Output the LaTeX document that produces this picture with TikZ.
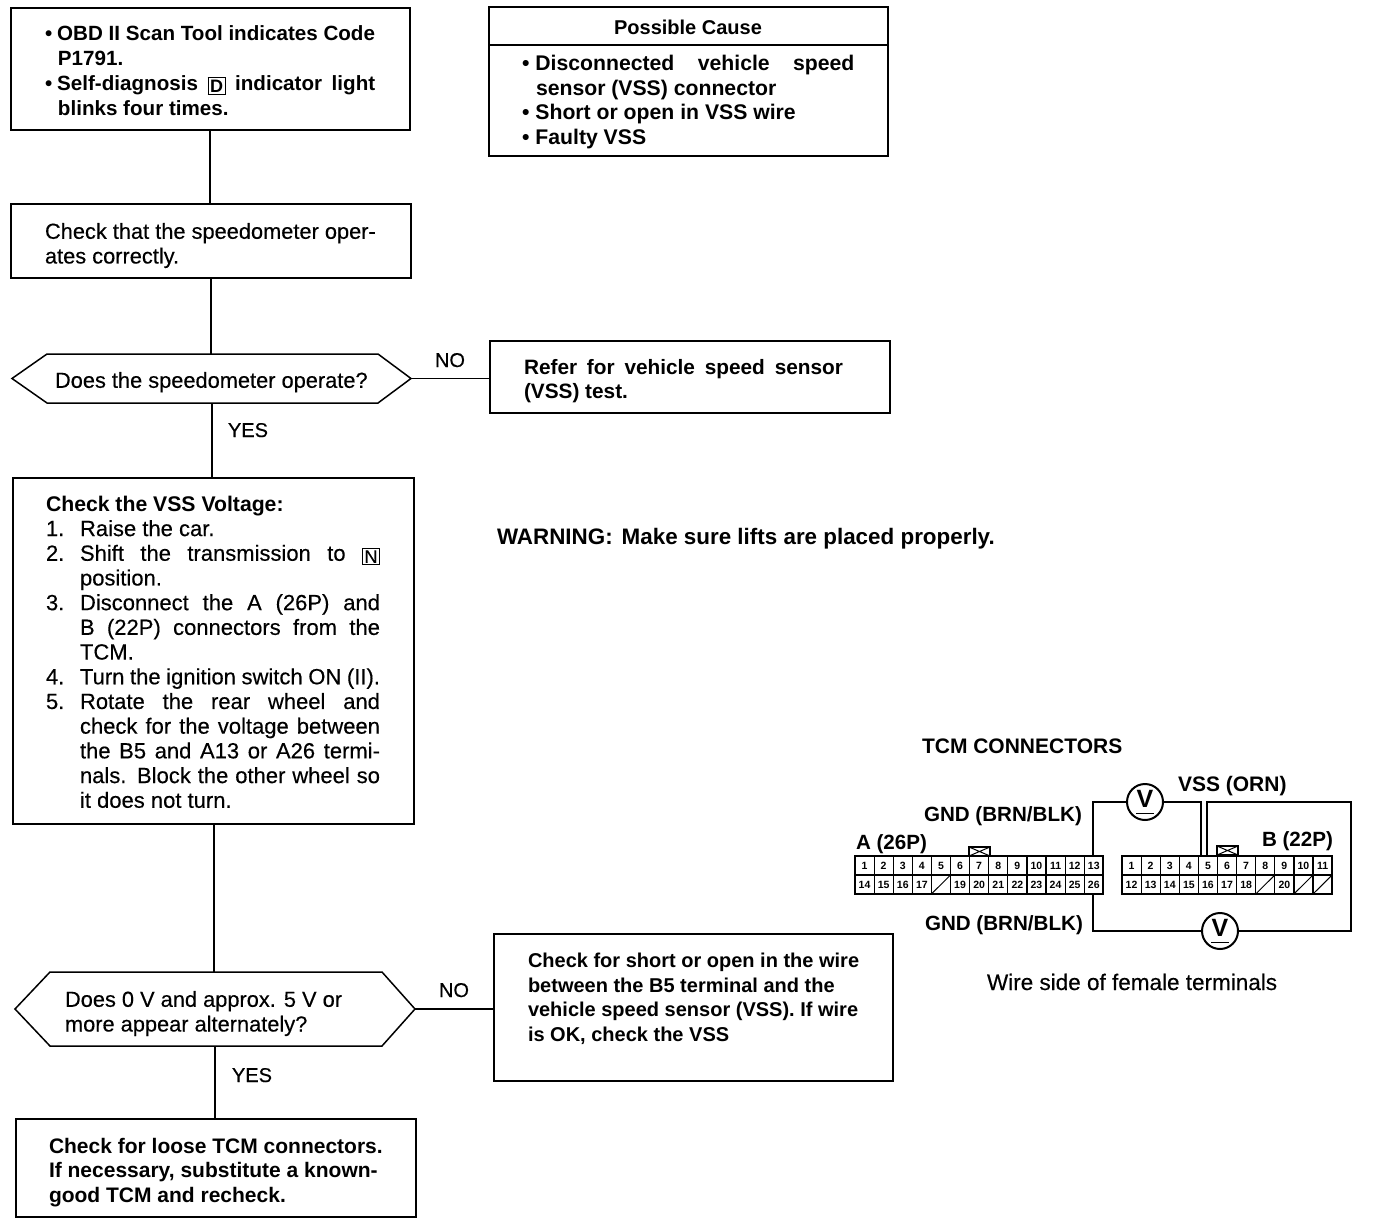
\documentclass[tikz,border=0pt]{standalone}
\usepackage{fontspec}
\setmainfont[UprightFeatures={FakeBold=0.35}]{Liberation Sans}
\tikzset{
  x=1pt,y=-1pt,
  boxa/.style={draw,line width=1.6pt,inner sep=0pt,outer sep=0pt,anchor=north west},
  hexbase/.style={inner sep=0pt,outer sep=0pt,anchor=north west},
  flow/.style={line width=1.5pt},
  wire/.style={line width=1.8pt},
  txt/.style={inner sep=0pt,outer sep=0pt,anchor=north west,align=left,font=\fontsize{21.8}{24.7}\selectfont},
  txtb/.style={txt,font=\fontsize{20.8}{24.7}\selectfont\bfseries},
  lab/.style={inner sep=0pt,outer sep=0pt,anchor=base west,font=\fontsize{20}{24}\selectfont},
  labb/.style={lab,font=\fontsize{20.6}{24}\selectfont\bfseries},
  cell/.style={draw,line width=1.2pt,inner sep=0pt,outer sep=0pt,minimum width=19.1pt,minimum height=19pt,font=\fontsize{10.5}{11}\selectfont\bfseries,anchor=north west},
  meter/.style={circle,draw,line width=2pt,minimum size=36pt,inner sep=0pt,outer sep=0pt,font=\fontsize{25}{25}\selectfont\bfseries,fill=white},
  keybar/.style={draw,line width=1.3pt,inner sep=0pt,outer sep=0pt,minimum width=21pt,minimum height=9pt,anchor=north west},
}
\newcommand{\kbox}[1]{{\setlength{\fboxsep}{1.5pt}\setlength{\fboxrule}{1pt}\raisebox{-2pt}{\fbox{\fontsize{18}{18}\selectfont #1}}}}
\newcommand{\num}[1]{\makebox[34pt][l]{#1}}
\begin{document}
\begin{tikzpicture}
\useasboundingbox (0,0) rectangle (1376,1226);
% flow boxes
\node[boxa,minimum width=399pt,minimum height=122pt] (b1) at (11,8) {};
\node[boxa,minimum width=400pt,minimum height=74pt] (b2) at (11,204) {};
\node[boxa,minimum width=399pt,minimum height=149pt] (pc) at (489,7) {};
\node[hexbase,minimum width=399pt,minimum height=49pt] (h1) at (12,354) {};
\node[boxa,minimum width=400pt,minimum height=72pt] (n1) at (490,341) {};
\node[boxa,minimum width=401pt,minimum height=346pt] (b3) at (13,478) {};
\node[hexbase,minimum width=400pt,minimum height=74pt] (h2) at (15,972) {};
\node[boxa,minimum width=399pt,minimum height=147pt] (n2) at (494,934) {};
\node[boxa,minimum width=400pt,minimum height=98pt] (b4) at (16,1119) {};
\draw[flow] (h1.west) -- ([xshift=35pt]h1.north west) -- ([xshift=-33pt]h1.north east) -- (h1.east) -- ([xshift=-33pt]h1.south east) -- ([xshift=35pt]h1.south west) -- cycle;
\draw[flow] (h2.west) -- ([xshift=35pt]h2.north west) -- ([xshift=-33pt]h2.north east) -- (h2.east) -- ([xshift=-33pt]h2.south east) -- ([xshift=35pt]h2.south west) -- cycle;
\draw[flow] (pc.north west |- 0,45) -- (pc.north east |- 0,45);
% connectors
\draw[flow] ([xshift=-.5pt]b1.south) -- ([xshift=-.5pt]b1.south |- b2.north);
\draw[flow] (b2.south) -- (b2.south |- h1.north);
\draw[flow] ([xshift=.5pt]h1.south) -- ([xshift=.5pt]h1.south |- b3.north);
\draw[flow] (h1.east) -- (h1.east -| n1.west);
\draw[flow] ([xshift=.5pt]b3.south) -- ([xshift=.5pt]b3.south |- h2.north);
\draw[flow] (h2.south) -- (h2.south |- b4.north);
\draw[flow] (h2.east) -- (h2.east -| n2.west);
% box text
\node[txtb,font=\fontsize{20.6}{24.7}\selectfont\bfseries] (t1) at (45,26) {•\hspace{5pt}OBD II Scan Tool indicates Code\\\hspace*{13pt}P1791.\\•\hspace{5pt}\makebox[318pt][s]{Self-diagnosis \kbox{D} indicator light}\\\hspace*{13pt}blinks four times.};
\node[txt] (t2) at (45,223) {Check that the speedometer oper-\\ates correctly.};
\node[labb,font=\fontsize{20}{24}\selectfont\bfseries,anchor=base] (t3) at (688,34) {Possible Cause};
\node[txtb,font=\fontsize{21.2}{24.7}\selectfont\bfseries] (t4) at (522,55) {•\hspace{6pt}\makebox[319pt][s]{Disconnected vehicle speed}\\\hspace*{14pt}sensor (VSS) connector\\•\hspace{6pt}Short or open in VSS wire\\•\hspace{6pt}Faulty VSS};
\node[txt] (t5) at (55,372) {Does the speedometer operate?};
\node[lab] (t6) at (435,367) {NO};
\node[lab] (t7) at (228,437) {YES};
\node[txtb] (t8) at (524,359) {\makebox[319pt][s]{Refer for vehicle speed sensor}\\(VSS) test.};
\node[txt,font=\fontsize{22}{24.7}\selectfont] (t9) at (46,496) {{\fontsize{21.2}{24.7}\selectfont\textbf{Check the VSS Voltage:}}\\
\num{1.}Raise the car.\\
\num{2.}\makebox[300pt][s]{Shift the transmission to \kbox{N}}\\
\num{}position.\\
\num{3.}\makebox[300pt][s]{Disconnect the A (26P) and}\\
\num{}\makebox[300pt][s]{B (22P) connectors from the}\\
\num{}TCM.\\
\num{4.}\makebox[300pt][s]{Turn the ignition switch ON (II).}\\
\num{5.}\makebox[300pt][s]{Rotate the rear wheel and}\\
\num{}\makebox[300pt][s]{check for the voltage between}\\
\num{}\makebox[300pt][s]{the B5 and A13 or A26 termi-}\\
\num{}\makebox[300pt][s]{nals. Block the other wheel so}\\
\num{}it does not turn.};
\node[lab,font=\fontsize{22.4}{24}\selectfont\bfseries] (t10) at (497,544) {WARNING:\hspace{9pt}Make sure lifts are placed properly.};
\node[txt] (t11) at (65,991) {Does 0 V and approx. 5 V or\\more appear alternately?};
\node[lab] (t12) at (439,997) {NO};
\node[lab] (t13) at (232,1082) {YES};
\node[txtb,font=\fontsize{20}{24.7}\selectfont\bfseries] (t14) at (528,953) {Check for short or open in the wire\\between the B5 terminal and the\\vehicle speed sensor (VSS). If wire\\is OK, check the VSS};
\node[txtb,font=\fontsize{21}{24.7}\selectfont\bfseries] (t15) at (49,1138) {Check for loose TCM connectors.\\If necessary, substitute a known-\\good TCM and recheck.};
% connector diagram
\node[labb,font=\fontsize{21}{24}\selectfont\bfseries] (c0) at (922,753) {TCM CONNECTORS};
\node[labb,font=\fontsize{21}{24}\selectfont\bfseries] (c1) at (1178,791) {VSS (ORN)};
\node[labb] (c2) at (924,821) {GND (BRN/BLK)};
\node[labb] (c3) at (856,849) {A (26P)};
\node[labb] (c4) at (1262,846) {B (22P)};
\node[labb] (c5) at (925,930) {GND (BRN/BLK)};
\node[lab,font=\fontsize{22.5}{24}\selectfont] (c6) at (987,990) {Wire side of female terminals};
\foreach \n [count=\i from 0] in {1,...,13} {
  \node[cell] (au\n) at ({855+19.1*\i},856) {\n};
}
\foreach \n [count=\i from 0] in {14,15,16,17,,19,20,21,22,23,24,25,26} {
  \node[cell] (al\i) at ({855+19.1*\i},875) {\n};
}
\foreach \n [count=\i from 0] in {1,...,11} {
  \node[cell] (bu\n) at ({1122+19.1*\i},856) {\n};
}
\foreach \n [count=\i from 0] in {12,13,14,15,16,17,18,,20,,} {
  \node[cell] (bl\i) at ({1122+19.1*\i},875) {\n};
}
\draw[line width=1pt] (al4.south west) -- (al4.north east);
\draw[line width=1pt] (bl7.south west) -- (bl7.north east);
\draw[line width=1pt] (bl9.south west) -- (bl9.north east);
\draw[line width=1pt] (bl10.south west) -- (bl10.north east);
\draw[line width=2pt] (al0.south west) rectangle (au13.north east);
\draw[line width=2pt] (bl0.south west) rectangle (bu11.north east);
\node[keybar] (ka) at (969,847) {};
\draw[line width=1pt] (ka.north west) -- (ka.south east) (ka.south west) -- (ka.north east);
\node[keybar] (kb) at (1217,846) {};
\draw[line width=1pt] (kb.north west) -- (kb.south east) (kb.south west) -- (kb.north east);
\node[meter] (m1) at (1145,802) {\raisebox{6pt}{V}};
\node[meter] (m2) at (1220,931) {\raisebox{6pt}{V}};
\draw[line width=1.8pt] ([xshift=-9pt,yshift=-11.5pt]m1.center) -- ([xshift=9pt,yshift=-11.5pt]m1.center);
\draw[line width=1.8pt] ([xshift=-9pt,yshift=-11.5pt]m2.center) -- ([xshift=9pt,yshift=-11.5pt]m2.center);
\coordinate (ag) at (1093,856);
\coordinate (ag2) at (1093,894);
\coordinate (bv) at (1201,856);
\coordinate (bv2) at (1207,856);
\draw[wire] (ag) |- (m1.west);
\draw[wire] (m1.east) -| (bv);
\draw[wire] (bv2) |- (1351,802) |- (m2.east);
\draw[wire] (m2.west) -| (ag2);
\end{tikzpicture}
\end{document}
